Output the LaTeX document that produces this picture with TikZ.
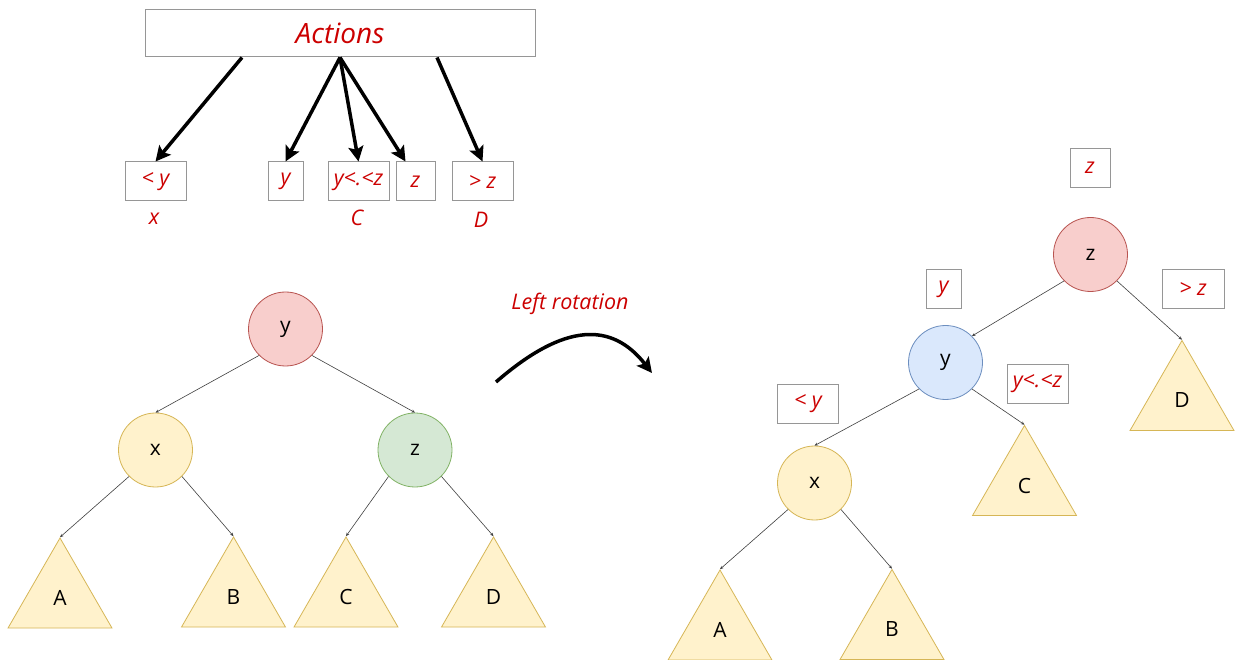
\documentclass[tikz,border=0pt]{standalone}
\usepackage{fontspec}
\setmainfont{Open Sans}
\usetikzlibrary{arrows.meta,shapes.geometric}
\definecolor{RedText}{RGB}{204,0,0}
\definecolor{BoxLine}{RGB}{150,150,150}
\definecolor{PinkFill}{HTML}{F8CECC}
\definecolor{PinkLine}{HTML}{B85450}
\definecolor{YellowFill}{HTML}{FFF2CC}
\definecolor{YellowLine}{HTML}{D6B656}
\definecolor{GreenFill}{HTML}{D5E8D4}
\definecolor{GreenLine}{HTML}{82B366}
\definecolor{BlueFill}{HTML}{DAE8FC}
\definecolor{BlueLine}{HTML}{6C8EBF}
\tikzset{
  keybox/.style={rectangle,draw=BoxLine,line width=1pt,minimum height=39pt,inner sep=0pt,
    text=RedText,font=\itshape\fontsize{21.5}{24}\selectfont},
  redlabel/.style={text=RedText,font=\itshape\fontsize{21.5}{24}\selectfont},
  treenode/.style={circle,line width=0.8pt,minimum size=74pt,inner sep=0pt,
    font=\fontsize{21}{24}\selectfont},
  subtree/.style={regular polygon,regular polygon sides=3,minimum size=120pt,inner sep=0pt,
    fill=YellowFill,draw=YellowLine,line width=0.8pt,font=\fontsize{21}{24}\selectfont},
  edge/.style={draw=black!75,line width=0.6pt,-{Stealth[length=3.5pt,width=3pt]}},
  bigarrow/.style={line width=3.5pt,-{Stealth[length=15pt,width=15pt,inset=3pt]}}
}
\begin{document}
\begin{tikzpicture}[x=1pt,y=-1pt]
	\useasboundingbox (0,0) rectangle (1235,660);
	\fill[white] (0,0) rectangle (1235,660);

	\node [rectangle,draw=BoxLine,line width=1pt,minimum width=390pt,minimum height=47pt,
	inner sep=0pt,text=RedText,font=\itshape\fontsize{28}{32}\selectfont, name = act] at (340,33.5) {Actions};
	\node [keybox,minimum width=61pt, name = lty] at (155.5,181.5) {< y};
	\node [keybox,minimum width=35pt, name = eqy] at (285.5,181.5) {y};
	\node [keybox,minimum width=61pt, name = mid] at (358.5,181.5) {y<.<z};
	\node [keybox,minimum width=39pt, name = eqz] at (415.5,181.5) {z};
	\node [keybox,minimum width=61pt, name = gtz] at (482.5,181.5) {> z};
	\node [redlabel, name = capx] at (154,219) {x};
	\node [redlabel, name = capC] at (357,218) {C};
	\node [redlabel, name = capD] at (481,220) {D};
	\draw [bigarrow] ([xshift=-98pt]act.south) -- (lty.north);
	\draw [bigarrow] (act.south) -- (eqy.north);
	\draw [bigarrow] (act.south) -- (mid.north);
	\draw [bigarrow] (act.south) -- ([xshift=-10pt]eqz.north);
	\draw [bigarrow] ([xshift=97pt]act.south) -- (gtz.north);

	\node [treenode,fill=PinkFill,draw=PinkLine, name = ly] at (285.5,329) {y};
	\node [treenode,fill=YellowFill,draw=YellowLine, name = lx] at (155.5,450) {x};
	\node [treenode,fill=GreenFill,draw=GreenLine, name = lz] at (415,450) {z};
	\node [subtree, name = tA] at (60,598) {A};
	\node [subtree, name = tB] at (233.5,597) {B};
	\node [subtree, name = tC] at (346,597) {C};
	\node [subtree, name = tD] at (493.5,597) {D};
	\draw [edge] (ly.225) -- (lx.north);
	\draw [edge] (ly.315) -- (lz.north);
	\draw [edge] (lx.225) -- (tA.north);
	\draw [edge] (lx.315) -- (tB.north);
	\draw [edge] (lz.225) -- (tC.north);
	\draw [edge] (lz.315) -- (tD.north);

	\node [redlabel, name = rot] at (570,304) {Left rotation};
	\coordinate (rotstart) at (496,382);
	\coordinate (rotend) at (652,373);
	\draw [bigarrow] (rotstart) .. controls (565,322) and (612,322) .. (rotend);

	\node [keybox,minimum width=40pt, name = rtopz] at (1090,168) {z};
	\node [keybox,minimum width=35pt, name = rboxy] at (943.5,289) {y};
	\node [keybox,minimum width=62pt, name = rgtz] at (1193,289) {> z};
	\node [keybox,minimum width=61pt, name = rmid] at (1037.5,383.7) {y<.<z};
	\node [keybox,minimum width=61pt, name = rlty] at (808,403.7) {< y};
	\node [treenode,fill=PinkFill,draw=PinkLine, name = rz] at (1090.5,254.5) {z};
	\node [treenode,fill=BlueFill,draw=BlueLine, name = ry] at (945.5,362.5) {y};
	\node [treenode,fill=YellowFill,draw=YellowLine, name = rx] at (814.5,483) {x};
	\node [subtree, name = rC] at (1024.5,485.5) {C};
	\node [subtree, name = rD] at (1182,400.5) {D};
	\node [subtree, name = rA] at (720,630) {A};
	\node [subtree, name = rB] at (892,629.5) {B};
	\draw [edge] (rz.225) -- (ry.45);
	\draw [edge] (rz.315) -- (rD.north);
	\draw [edge] (ry.225) -- (rx.north);
	\draw [edge] (ry.315) -- (rC.north);
	\draw [edge] (rx.225) -- (rA.north);
	\draw [edge] (rx.315) -- (rB.north);
\end{tikzpicture}
\end{document}
